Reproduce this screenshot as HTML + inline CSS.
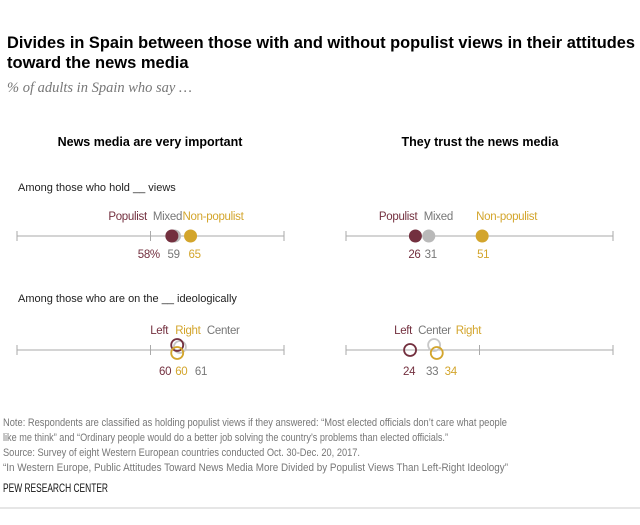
<!DOCTYPE html>
<html><head><meta charset="utf-8"><style>
body{margin:0;background:#fff;font-family:"Liberation Sans",sans-serif;}
</style></head><body>
<svg width="640" height="520" xmlns="http://www.w3.org/2000/svg" id="chart" font-family="Liberation Sans, sans-serif">
<text x="7" y="48" font-size="16.5" font-weight="bold" fill="#000" textLength="628" lengthAdjust="spacingAndGlyphs">Divides in Spain between those with and without populist views in their attitudes</text>
<text x="7" y="68" font-size="16.5" font-weight="bold" fill="#000">toward the news media</text>
<text x="7" y="92" font-size="14.5" font-style="italic" fill="#777" style="font-family:'Liberation Serif',serif">% of adults in Spain who say …</text>
<text x="150" y="146" font-size="12.5" font-weight="bold" text-anchor="middle">News media are very important</text>
<text x="480" y="146" font-size="12.5" font-weight="bold" text-anchor="middle">They trust the news media</text>
<text x="18" y="191" font-size="11" fill="#222">Among those who hold __ views</text>
<text x="18" y="302" font-size="11" fill="#222">Among those who are on the __ ideologically</text>
<g id="plots"></g>
<g font-size="11" fill="#777">
<text x="3" y="426" textLength="504" lengthAdjust="spacingAndGlyphs">Note: Respondents are classified as holding populist views if they answered: “Most elected officials don’t care what people</text>
<text x="3" y="441" textLength="445" lengthAdjust="spacingAndGlyphs">like me think” and “Ordinary people would do a better job solving the country’s problems than elected officials.”</text>
<text x="3" y="456" textLength="357" lengthAdjust="spacingAndGlyphs">Source: Survey of eight Western European countries conducted Oct. 30-Dec. 20, 2017.</text>
<text x="3" y="471" textLength="505" lengthAdjust="spacingAndGlyphs">“In Western Europe, Public Attitudes Toward News Media More Divided by Populist Views Than Left-Right Ideology”</text>
</g>
<text x="3" y="492" font-size="12" fill="#111" textLength="105" lengthAdjust="spacingAndGlyphs">PEW RESEARCH CENTER</text>
<line x1="0" y1="508" x2="640" y2="508" stroke="#ccc"/>
</svg>
<script>
const panels = ["important","trust"];
const viewsPopulist = [58, 26];
const viewsMixed = [59, 31];
const viewsNonPopulist = [65, 51];
const ideoLeft = [60, 24];
const ideoCenter = [61, 33];
const ideoRight = [60, 34];
const MAROON="#73303f", GRAY="#b9b9b9", GOLD="#d3a52c", TXTGRAY="#777";
const NS="http://www.w3.org/2000/svg";
const g=document.getElementById('plots');
function mk(t,a){const e=document.createElementNS(NS,t);for(const k in a)e.setAttribute(k,a[k]);g.appendChild(e);return e;}
function xs(p,v){const x0=p===0?17:346;return x0+v*2.67;}
function txt(x,y,s,c,anchor,name){const e=mk('text',{x:x,y:y,'font-size':11.5,'letter-spacing':-0.3,fill:c,'text-anchor':anchor});e.textContent=s;

return e;}
function axis(p,y,name){const a=mk('line',{x1:xs(p,0),x2:xs(p,100),y1:y,y2:y,stroke:'#aaa'});


[0,50,100].forEach(t=>{const l=mk('line',{x1:xs(p,t),x2:xs(p,t),y1:y-5,y2:y+5,stroke:'#aaa'});

});}
function dot(x,y,c,fill,name){const d=mk('circle',{cx:x,cy:y,r:fill?6.5:6,fill:fill?c:'none',stroke:c,'stroke-width':fill?0:1.8});

}
panels.forEach((pn,p)=>{
  const y1=236;
  axis(p,y1,'axis-views-'+pn);
  const xp=xs(p,viewsPopulist[p]), xm=xs(p,viewsMixed[p]), xn=xs(p,viewsNonPopulist[p]);
  dot(xm,y1,GRAY,true,'dot-mixed-'+pn);
  dot(xp,y1,MAROON,true,'dot-populist-'+pn);
  dot(xn,y1,GOLD,true,'dot-nonpopulist-'+pn);
  if(p===0){
    txt(xp-25,220,'Populist',MAROON,'end','label-populist-'+pn);
    txt(xp-19,220,'Mixed',TXTGRAY,'start','label-mixed-'+pn);
    txt(xn-8,220,'Non-populist',GOLD,'start','label-nonpopulist-'+pn);
    txt(xp-12,258,viewsPopulist[p]+'%',MAROON,'end','value-populist-'+pn);
    txt(xm-7,258,viewsMixed[p],TXTGRAY,'start','value-mixed-'+pn);
    txt(xn-2,258,viewsNonPopulist[p],GOLD,'start','value-nonpopulist-'+pn);
  } else {
    txt(xp+2,220,'Populist',MAROON,'end','label-populist-'+pn);
    txt(xm-5,220,'Mixed',TXTGRAY,'start','label-mixed-'+pn);
    txt(xn-6,220,'Non-populist',GOLD,'start','label-nonpopulist-'+pn);
    txt(xp-1,258,viewsPopulist[p],MAROON,'middle','value-populist-'+pn);
    txt(xm+2,258,viewsMixed[p],TXTGRAY,'middle','value-mixed-'+pn);
    txt(xn+1,258,viewsNonPopulist[p],GOLD,'middle','value-nonpopulist-'+pn);
  }
  const y2=350;
  axis(p,y2,'axis-ideology-'+pn);
  const xl=xs(p,ideoLeft[p]), xc=xs(p,ideoCenter[p]), xr=xs(p,ideoRight[p]);
  dot(xc,p===0?347:345,"#c8c8c8",false,'dot-center-'+pn);
  dot(xl,p===0?345:350,MAROON,false,'dot-left-'+pn);
  dot(xr,353,GOLD,false,'dot-right-'+pn);
  if(p===0){
    txt(xl-9,334,'Left',MAROON,'end','label-left-'+pn);
    txt(xr-2,334,'Right',GOLD,'start','label-right-'+pn);
    txt(xc+27,334,'Center',TXTGRAY,'start','label-center-'+pn);
    txt(xl-6,375,ideoLeft[p],MAROON,'end','value-left-'+pn);
    txt(xr-2,375,ideoRight[p],GOLD,'start','value-right-'+pn);
    txt(xc+15,375,ideoCenter[p],TXTGRAY,'start','value-center-'+pn);
  } else {
    txt(xl+2,334,'Left',MAROON,'end','label-left-'+pn);
    txt(xc-16,334,'Center',TXTGRAY,'start','label-center-'+pn);
    txt(xr+19,334,'Right',GOLD,'start','label-right-'+pn);
    txt(xl-1,375,ideoLeft[p],MAROON,'middle','value-left-'+pn);
    txt(xc-2,375,ideoCenter[p],TXTGRAY,'middle','value-center-'+pn);
    txt(xr+14,375,ideoRight[p],GOLD,'middle','value-right-'+pn);
  }
});
</script>
</body></html>
